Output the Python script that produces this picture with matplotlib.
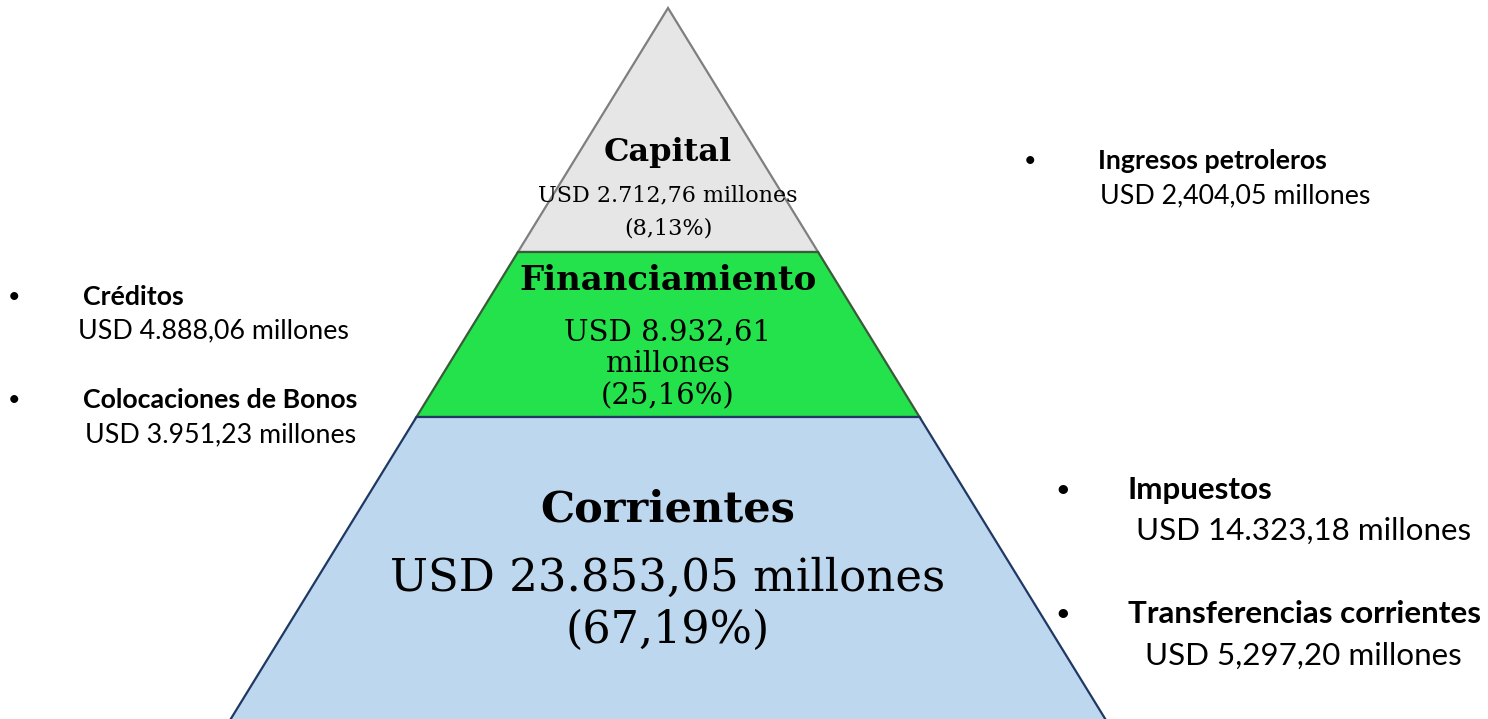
import matplotlib
matplotlib.use("Agg")
import matplotlib.pyplot as plt
from matplotlib.patches import Polygon

# Datos de la pirámide (de arriba hacia abajo)
niveles = ["Capital", "Financiamiento", "Corrientes"]
montos = ["USD 2.712,76 millones", "USD 8.932,61\nmillones", "USD 23.853,05 millones"]
porcentajes = ["(8,13%)", "(25,16%)", "(67,19%)"]

# Detalle de cada rubro
det_izq = ["Créditos", "Colocaciones de Bonos"]
det_izq_val = ["USD 4.888,06 millones", "USD 3.951,23 millones"]
det_der_sup = ["Ingresos petroleros"]
det_der_sup_val = ["USD 2,404,05 millones"]
det_der_inf = ["Impuestos", "Transferencias corrientes"]
det_der_inf_val = ["USD 14.323,18 millones", "USD 5,297,20 millones"]

W, H = 1488, 719
fig = plt.figure(figsize=(W / 100, H / 100), dpi=100)
ax = fig.add_axes([0, 0, 1, 1])
ax.set_xlim(0, W)
ax.set_ylim(H, 0)
ax.axis("off")

# geometria de la piramide (pixeles)
apex_x, apex_y = 668, 8
pendiente = 0.615
cortes = [apex_y, 252, 417, H + 40]
rellenos = ["#e6e6e6", "#23e24b", "#bdd7ee"]
bordes = ["#7f7f7f", "#3a5a3a", "#1f3864"]

def xs(y):
    d = (y - apex_y) * pendiente
    return apex_x - d, apex_x + d

for i in range(3):
    y0, y1 = cortes[i], cortes[i + 1]
    l0, r0 = xs(y0)
    l1, r1 = xs(y1)
    pts = [(l0, y0), (r0, y0), (r1, y1), (l1, y1)]
    ax.add_patch(Polygon(pts, closed=True, facecolor=rellenos[i],
                         edgecolor=bordes[i], linewidth=1.6, zorder=2 + i))

serif = "DejaVu Serif"

def linea(y, txt, fs, bold=False):
    ax.text(668, y, txt, ha="center", va="center", family=serif,
            fontweight="bold" if bold else "normal", fontsize=fs, zorder=10)

# Capital
linea(152, niveles[0], 23, True)
linea(195, montos[0], 16)
linea(228, porcentajes[0], 16)
# Financiamiento
linea(281, niveles[1], 24.5, True)
m1, m2 = montos[1].split("\n")
linea(333, m1, 21)
linea(364, m2, 21)
linea(396, porcentajes[1], 21)
# Corrientes
linea(510, niveles[2], 31, True)
linea(578, montos[2], 32.5)
linea(630, porcentajes[2], 32)

sans = "Lato"

def bloque(xb, yb, xt, xv, dy, titulo, valor, fs):
    ax.text(xb, yb, "•", ha="center", va="center", family=sans, fontsize=fs * 0.8, zorder=10)
    ax.text(xt, yb, titulo, ha="left", va="center", family=sans,
            fontweight="bold", fontsize=fs, zorder=10)
    ax.text(xv, yb + dy, valor, ha="left", va="center", family=sans,
            fontsize=fs, zorder=10)

# lado izquierdo
bloque(14, 297, 83, 78, 34, det_izq[0], det_izq_val[0], 19.3)
bloque(14, 400, 83, 85, 35, det_izq[1], det_izq_val[1], 19.3)
# lado derecho arriba
bloque(1030, 161, 1098, 1100, 35, det_der_sup[0], det_der_sup_val[0], 19.3)
# lado derecho abajo
bloque(1063, 490, 1128, 1136, 41, det_der_inf[0], det_der_inf_val[0], 22.6)
bloque(1063, 614, 1128, 1145, 42, det_der_inf[1], det_der_inf_val[1], 22.6)

fig.savefig("out.png", dpi=100, facecolor="white")
